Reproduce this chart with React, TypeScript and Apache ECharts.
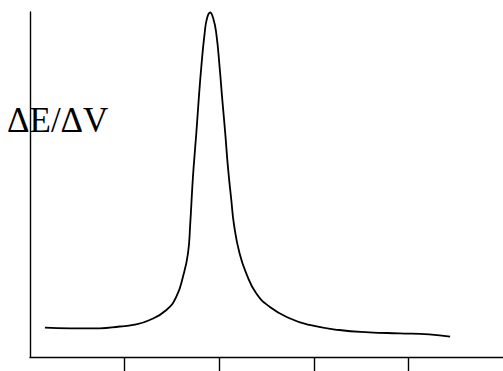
import React, { useEffect, useRef } from "react";
import * as echarts from "echarts";

// curve (x in tick units, y in % of axis height)
const curveX = [0.158, 0.422, 0.738, 0.949, 1.090, 1.266, 1.442, 1.547, 1.617, 1.670, 1.693, 1.714, 1.730, 1.758, 1.783, 1.811, 1.846, 1.872, 1.904, 1.936, 1.969, 2.004, 2.033, 2.064, 2.092, 2.128, 2.157, 2.215, 2.286, 2.391, 2.532, 2.743, 2.954, 3.270, 3.586, 3.903, 4.219, 4.441];
const curveY = [8.49, 8.32, 8.32, 8.84, 9.28, 10.72, 13.62, 17.48, 23.28, 30.06, 38.26, 48.41, 55.16, 64.84, 74.49, 84.14, 93.83, 98.26, 99.86, 98.26, 93.83, 84.14, 74.49, 64.84, 55.16, 45.51, 38.26, 30.06, 24.26, 18.46, 14.58, 11.22, 9.28, 7.83, 7.16, 6.87, 6.58, 5.88];
const tickLabels = ["", "1", "2", "3", "4", ""];
const yLabel = "ΔE/ΔV";

export default function App() {
  const ref = useRef<HTMLDivElement>(null);
  useEffect(() => {
    if (!ref.current) return;
    const chart = echarts.init(ref.current, null, { renderer: "svg" });
    const data = curveX.map((x, i) => [x, curveY[i]]);
    chart.setOption({
      animation: false,
      backgroundColor: "#fff",
      grid: { left: 30, top: 12, width: 474, height: 345, containLabel: false },
      xAxis: [
        {
          type: "value",
          min: 0,
          max: 5,
          interval: 1,
          axisLine: { show: true, lineStyle: { color: "#000", width: 1.4 } },
          axisTick: { show: false },
          axisLabel: { show: false },
          splitLine: { show: false },
        },
        {
          type: "category",
          data: tickLabels,
          boundaryGap: false,
          position: "bottom",
          axisLine: { show: false },
          axisTick: {
            show: true,
            length: 14,
            interval: (i: number) => i >= 1 && i <= 4,
            lineStyle: { color: "#000", width: 1.4 },
          },
          axisLabel: { show: false },
          splitLine: { show: false },
        },
      ],
      yAxis: {
        type: "value",
        min: 0,
        max: 100,
        axisLine: { show: true, lineStyle: { color: "#000", width: 1.4 } },
        axisTick: { show: false },
        axisLabel: { show: false },
        splitLine: { show: false },
      },
      graphic: [
        {
          type: "text",
          x: 7,
          y: 120,
          style: {
            text: yLabel,
            font: '35px "Liberation Serif", "Times New Roman", serif',
            fill: "#000",
            textVerticalAlign: "middle",
          },
        },
      ],
      series: [
        {
          type: "line",
          xAxisIndex: 0,
          data,
          smooth: 0.5,
          showSymbol: false,
          symbol: "none",
          lineStyle: { color: "#000", width: 1.8 },
        },
      ],
    });
    return () => chart.dispose();
  }, []);
  return (
    <div
      ref={ref}
      style={{ position: "fixed", left: 0, top: 0, width: 503, height: 371 }}
    />
  );
}
